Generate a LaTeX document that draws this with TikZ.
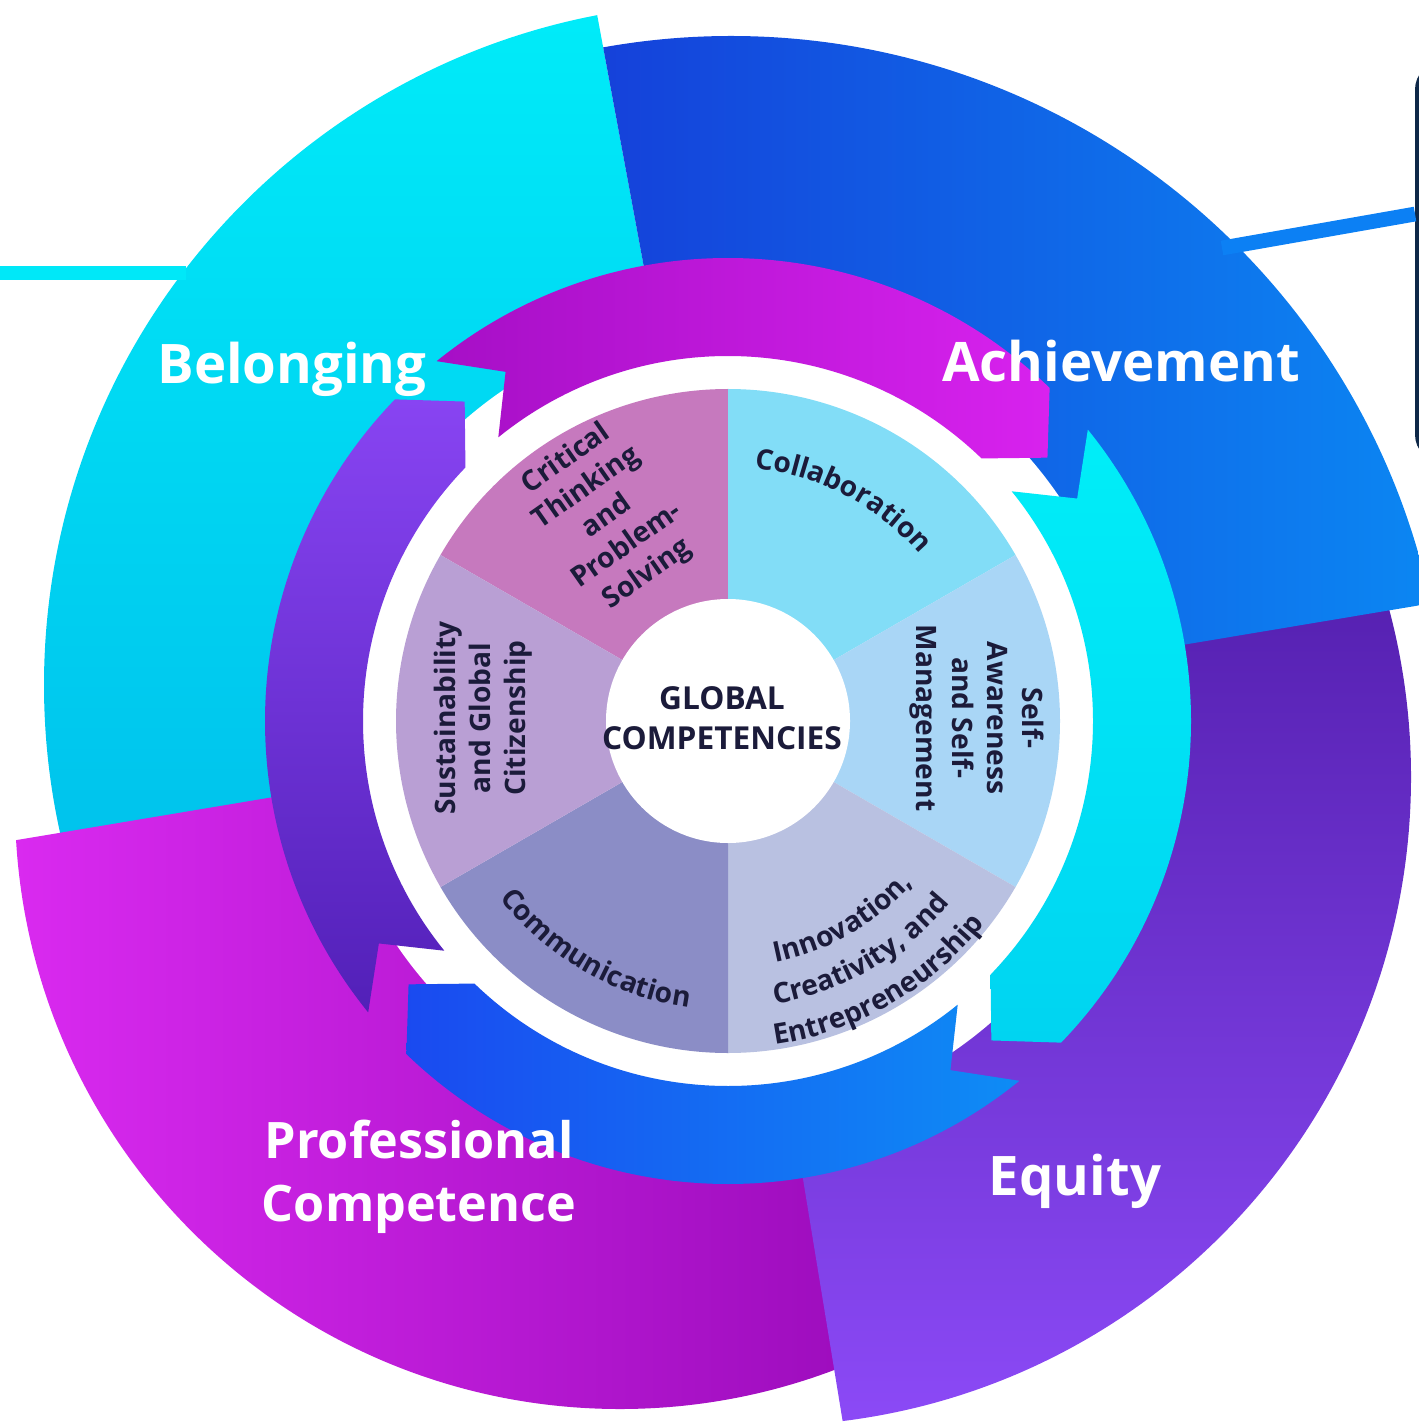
\documentclass[tikz,border=0pt]{standalone}
\usepackage{fontspec}
\setmainfont{Open Sans}
\usepackage{tikz}
\usetikzlibrary{calc, decorations.text}

\definecolor{belongTop}{HTML}{00ECF9}
\definecolor{belongBot}{HTML}{00C2EC}
\definecolor{achLeft}{HTML}{1541DA}
\definecolor{achRight}{HTML}{0B88F3}
\definecolor{eqTop}{HTML}{5520B0}
\definecolor{eqBot}{HTML}{8C4AF7}
\definecolor{profLeft}{HTML}{DA2AF0}
\definecolor{profRight}{HTML}{9C0CBC}
\definecolor{arrMagL}{HTML}{A60FC6}
\definecolor{arrMagR}{HTML}{D822EE}
\definecolor{arrCyanT}{HTML}{00EEF8}
\definecolor{arrCyanB}{HTML}{00D4F1}
\definecolor{arrBlueL}{HTML}{1A4AF0}
\definecolor{arrBlueR}{HTML}{0E8CF5}
\definecolor{arrPurT}{HTML}{8844F2}
\definecolor{arrPurB}{HTML}{5220B8}
\definecolor{secCrit}{HTML}{C679BE}
\definecolor{secCollab}{HTML}{82DDF7}
\definecolor{secSelf}{HTML}{A9D6F6}
\definecolor{secInnov}{HTML}{B9C1E1}
\definecolor{secComm}{HTML}{8B8DC6}
\definecolor{secSust}{HTML}{B99FD4}
\definecolor{wheelInk}{HTML}{1B1B3A}
\definecolor{boxEdge}{HTML}{0E2848}
\definecolor{boxFill}{HTML}{1858F0}
\definecolor{linkCyan}{HTML}{00E8F8}
\definecolor{linkBlue}{HTML}{0C80F4}

\newcommand{\wheelfont}{\color{wheelInk}\bfseries\fontsize{8}{10}\selectfont}

\begin{document}
\begin{tikzpicture}[x=0.01cm, y=0.01cm]
  \tikzset{
    outerlabel/.style={text=white, font=\bfseries\fontsize{15.5}{18}\selectfont, align=center, inner sep=0pt},
    wheellabel/.style={text=wheelInk, font=\bfseries\fontsize{8}{10}\selectfont, align=center, inner sep=0pt},
    curvedlabel/.style={decorate, decoration={text along path, text align=center}},
    link/.style={line width=4.2pt},
    arrowMag/.style={left color=arrMagL, right color=arrMagR},
    arrowCyan/.style={top color=arrCyanT, bottom color=arrCyanB},
    arrowBlue/.style={left color=arrBlueL, right color=arrBlueR},
    arrowPur/.style={top color=arrPurT, bottom color=arrPurB}
  }

  \useasboundingbox (0,0) rectangle (1419,-1425);
  \clip (0,0) rectangle (1419,-1425);

  % Centre of the whole wheel
  \coordinate (C) at (728,-721);

  \begin{scope}[shift={(C)}]
    % Outer segments (each one a bit exploded)
    % Belonging
    \begin{scope}
      \clip (0,0) -- (100.5:1500) arc[start angle=100.5, end angle=191, radius=1500] -- cycle;
      \clip (-2,36) circle[radius=682];
      \shade[top color=belongTop, bottom color=belongBot] (-720,-140) rectangle (-50,720);
    \end{scope}
    % Professional Competence
    \begin{scope}
      \clip (0,0) -- (189.5:1500) arc[start angle=189.5, end angle=282, radius=1500] -- cycle;
      \clip (-108,-83) circle[radius=605];
      \shade[left color=profLeft, right color=profRight] (-720,-700) rectangle (140,-55);
    \end{scope}
    % Equity
    \begin{scope}
      \clip (0,0) -- (-80.7:1500) arc[start angle=-80.7, end angle=12, radius=1500] -- cycle;
      \clip (34,-56) circle[radius=649];
      \shade[top color=eqTop, bottom color=eqBot] (60,-710) rectangle (700,140);
    \end{scope}
    % Achievement
    \begin{scope}
      \clip (0,0) -- (9.5:1500) arc[start angle=9.5, end angle=100.5, radius=1500] -- cycle;
      \clip (3,-30) circle[radius=715];
      \shade[left color=achLeft, right color=achRight] (-130,50) rectangle (720,720);
    \end{scope}

    % White ground under the arrow ring
    \fill[white] (0,0) circle[radius=400];

    % Circular chevron arrows
    \shade[arrowMag] (46:463) arc[start angle=46, end angle=129, radius=463] -- (122.5:414) -- (129:365)
      arc[start angle=129, end angle=46, radius=365] -- (39.5:414) -- cycle;
    \shade[arrowCyan] (-44:463) arc[start angle=-44, end angle=39, radius=463] -- (32.5:414) -- (39:365)
      arc[start angle=39, end angle=-44, radius=365] -- (-50.5:414) -- cycle;
    \shade[arrowBlue] (-134:463) arc[start angle=-134, end angle=-51, radius=463] -- (-57.5:414) -- (-51:365)
      arc[start angle=-51, end angle=-134, radius=365] -- (-140.5:414) -- cycle;
    \shade[arrowPur] (136:463) arc[start angle=136, end angle=219, radius=463] -- (212.5:414) -- (219:365)
      arc[start angle=219, end angle=136, radius=365] -- (129.5:414) -- cycle;

    % Competency wheel
    \foreach \s/\col in {90/secCrit, 30/secCollab, -30/secSelf, -90/secInnov, -150/secComm, 150/secSust}
      \fill[\col] (0,0) -- (\s:332) arc[start angle=\s, end angle=\s+60, radius=332] -- cycle;
    \fill[white] (0,0) circle[radius=122];

    % Curved sector texts
    \path[curvedlabel, decoration={text={|\wheelfont|Collaboration}}]
      (95:254) arc[start angle=95, end angle=30, radius=254];
    \path[curvedlabel, decoration={text={|\wheelfont|Communication}}]
      (-165:289) arc[start angle=-165, end angle=-75, radius=289];
    \path[curvedlabel, decoration={text={|\wheelfont|Innovation,}}]
      (-100:246) arc[start angle=-100, end angle=-20, radius=246];
    \path[curvedlabel, decoration={text={|\wheelfont|Creativity, and}}]
      (-100:287) arc[start angle=-100, end angle=-20, radius=287];
    \path[curvedlabel, decoration={text={|\wheelfont|Entrepreneurship}}]
      (-100:327) arc[start angle=-100, end angle=-20, radius=327];
  \end{scope}

  % Straight sector texts
  \node[wheellabel, rotate=35] (critical) at (607,-517) {Critical\\Thinking\\and\\Problem-\\Solving};
  \node[wheellabel, rotate=90] (sustain) at (483,-718) {Sustainability\\and Global\\Citizenship};
  \node[wheellabel, rotate=-90] (selfaware) at (977,-718) {Self-\\Awareness\\and Self-\\Management};
  \node[text=wheelInk, font=\bfseries\fontsize{9}{11.5}\selectfont, align=center] (global) at (722,-718) {GLOBAL\\COMPETENCIES};

  % Outer labels
  \node[outerlabel] (belonging) at (292,-369) {Belonging};
  \node[outerlabel] (achievement) at (1121,-361) {Achievement};
  \node[outerlabel, font=\bfseries\fontsize{14.3}{17.9}\selectfont] (professional) at (419,-1177) {Professional\\Competence};
  \node[outerlabel] (equity) at (1075,-1181) {Equity};

  % Call-out box at the right edge and the links
  \node[draw=boxEdge, fill=boxFill, line width=1.4pt, rounded corners=0.25cm, minimum width=2cm,
        minimum height=3.95cm, anchor=north west, inner sep=0pt] (callout) at (1415,-62) {};
  \coordinate (leftEnd) at (0,-273);
  \coordinate (belongEdge) at (186,-273);
  \coordinate (achEdge) at (1222,-248);
  \draw[link, linkCyan] (leftEnd) -- (belongEdge);
  \draw[link, linkBlue] (achEdge) -- ($(callout.north west)!0.38!(callout.south west)$);
\end{tikzpicture}
\end{document}
